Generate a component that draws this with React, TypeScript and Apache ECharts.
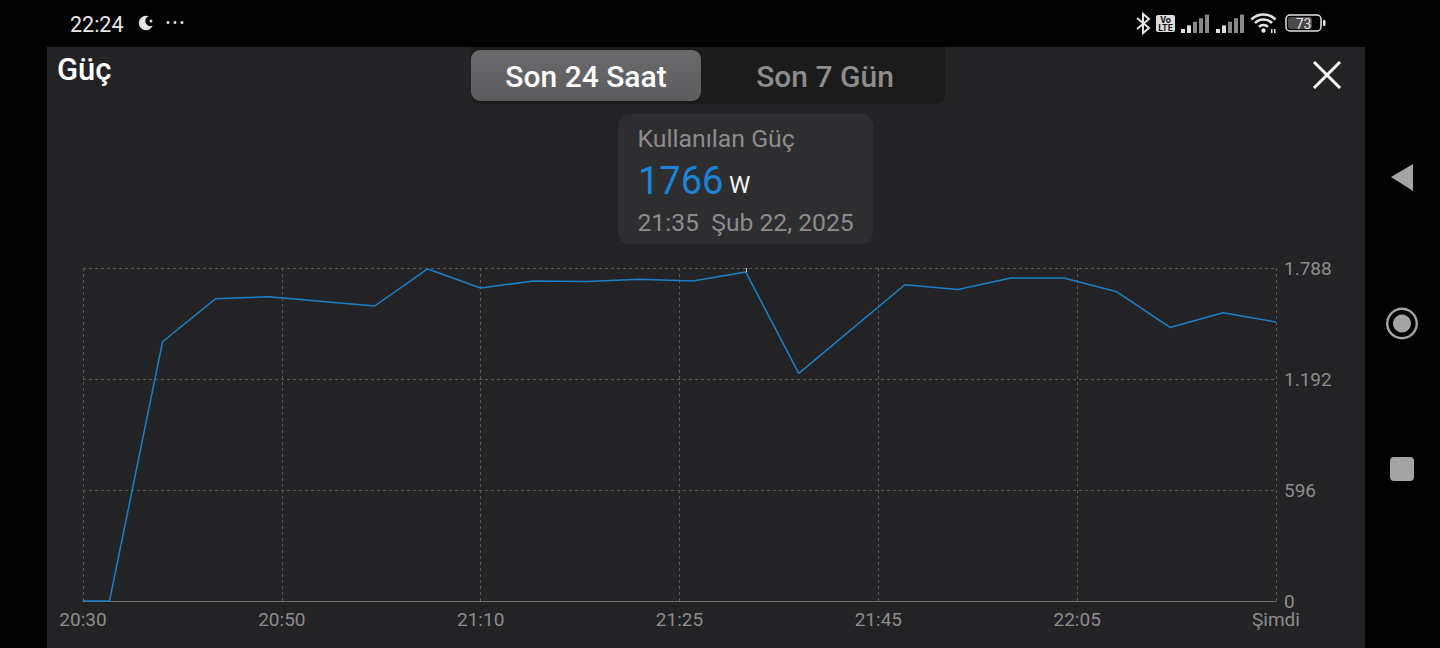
import React, { useEffect, useRef } from "react";
import * as echarts from "echarts";

const xTickLabels = ["20:30", "20:50", "21:10", "21:25", "21:45", "22:05", "Şimdi"];
const yTickLabels = ["0", "596", "1.192", "1.788"];
const yStep = 596;
const xStep = 18.75;
// position of each reading along the time axis, in minutes after the left edge
const sampleMinutes = [0, 2.5, 7.5, 12.5, 17.5, 27.5, 32.5, 37.5, 42.5, 47.5, 52.5, 57.5, 62.5, 67.5, 77.5, 82.5, 87.5, 92.5, 97.5, 102.5, 107.5, 112.5];
const powerWatts = [0, 0, 1392, 1623, 1634, 1584, 1783, 1681, 1718, 1716, 1727, 1718, 1766, 1222, 1698, 1673, 1734, 1734, 1660, 1469, 1548, 1498];
const selectedIndex = 12;

const FONT = "Roboto, sans-serif";
const GREY = "#8c8c8c";
const GRID = "#585858";

const txt = (text: string, x: number, y: number, size: number, fill: string, align = "left", fontWeight: any = 400) => ({
  type: "text", z: 5, x, y,
  style: { text, fill, font: `${fontWeight} ${size}px ${FONT}`, align, verticalAlign: "middle" },
});
const box = (x: number, y: number, width: number, height: number, r: any, fill: any, z = 1) => ({
  type: "rect", z, shape: { x, y, width, height, r }, style: { fill },
});
const bars = (x0: number, lit: string, dim: string) =>
  [0, 1, 2, 3, 4].map((i) => box(x0 + i * 6, 29 - i * 3.6, 4, 4 + i * 3.6, 0, i < 2 ? lit : dim, 5));

const statusIcons = () => {
  const c = "#e4e4e4";
  const wifi = [6.5, 12, 17].map((r) => ({
    type: "arc", z: 5,
    shape: { cx: 1263.5, cy: 31.5, r, startAngle: (-135 * Math.PI) / 180, endAngle: (-45 * Math.PI) / 180, clockwise: true },
    style: { stroke: c, lineWidth: 2.6, fill: "none" },
  }));
  return [
    // moon and dots
    { type: "circle", z: 5, shape: { cx: 146, cy: 23, r: 7.2 }, style: { fill: c } },
    { type: "circle", z: 6, shape: { cx: 150.5, cy: 21, r: 5.2 }, style: { fill: "#000" } },
    { type: "circle", z: 7, shape: { cx: 151, cy: 21, r: 1.4 }, style: { fill: c } },
    ...[168, 175, 182].map((cx) => ({ type: "circle", z: 5, shape: { cx, cy: 22.5, r: 1.5 }, style: { fill: c } })),
    // bluetooth
    { type: "polyline", z: 5, shape: { points: [[1137, 18], [1149, 28], [1143, 33], [1143, 14], [1149, 19], [1137, 29]] }, style: { stroke: c, lineWidth: 2, fill: "none" } },
    // VoLTE
    box(1156, 15, 19, 17, 2, "#dcdcdc", 5),
    txt("Vo", 1165.5, 20, 9, "#111", "center", 700),
    txt("LTE", 1165.5, 27.5, 9, "#111", "center", 700),
    ...bars(1181, "#e0e0e0", "#8a8a8a"),
    ...bars(1216, "#e0e0e0", "#8a8a8a"),
    ...wifi,
    { type: "circle", z: 5, shape: { cx: 1263.5, cy: 30.5, r: 2.2 }, style: { fill: c } },
    box(1271, 29, 1.5, 4, 0, c, 5),
    box(1274, 29, 1.5, 4, 0, c, 5),
    // battery
    { type: "rect", z: 5, shape: { x: 1286, y: 15, width: 35, height: 16, r: 4 }, style: { fill: "#000", stroke: c, lineWidth: 1.5 } },
    box(1288, 17, 24, 12, 2, "#4a4a4a", 5),
    txt("73", 1303.5, 24, 14, "#e4e4e4", "center"),
    box(1323, 20, 2.5, 6, 1, c, 5),
  ];
};

const navIcons = () => [
  { type: "polygon", z: 5, shape: { points: [[1391, 177], [1413, 164], [1413, 191]] }, style: { fill: "#a4a4a4" } },
  { type: "ring", z: 5, shape: { cx: 1402, cy: 323.5, r: 16, r0: 13.6 }, style: { fill: "#a4a4a4" } },
  { type: "circle", z: 5, shape: { cx: 1402, cy: 323.5, r: 9 }, style: { fill: "#a4a4a4" } },
  box(1390, 457, 24, 24, 4, "#a4a4a4", 5),
];

const App = () => {
  const ref = useRef<HTMLDivElement>(null);
  useEffect(() => {
    const chart = echarts.init(ref.current!, undefined, { renderer: "svg" });
    const line = { color: GRID, type: [3, 3] as any, width: 1 };
    chart.setOption({
      animation: false,
      backgroundColor: "#000",
      title: {
        text: "Güç", left: 52, top: 49,
        textStyle: { color: "#fff", fontFamily: FONT, fontSize: 31, fontWeight: 500 },
      },
      grid: { left: 83, right: 164, top: 268, bottom: 47, containLabel: false },
      xAxis: {
        type: "value", min: 0, max: xStep * (xTickLabels.length - 1), interval: xStep,
        axisLine: { show: true, lineStyle: { color: "#7a7a7a", type: [3, 1] as any, width: 1 } },
        axisTick: { show: false },
        splitLine: { show: true, lineStyle: line },
        axisLabel: {
          color: GREY, fontFamily: FONT, fontSize: 19, lineHeight: 18, margin: 9, hideOverlap: false,
          showMinLabel: true, showMaxLabel: true,
          formatter: (v: number) => xTickLabels[Math.round(v / xStep)],
        },
      },
      yAxis: {
        type: "value", position: "right", min: 0, max: yStep * (yTickLabels.length - 1), interval: yStep,
        axisLine: { show: false }, axisTick: { show: false },
        splitLine: { show: true, lineStyle: line },
        axisLabel: {
          color: GREY, fontFamily: FONT, fontSize: 19, lineHeight: 16, margin: 8, padding: [0, 0, 4, 0],
          formatter: (v: number) => yTickLabels[Math.round(v / yStep)],
        },
      },
      series: [{
        type: "line", showSymbol: false, symbol: "none", clip: false, z: 3,
        lineStyle: { color: "#1c80c8", width: 1.5 },
        data: sampleMinutes.map((m, i) => [m, powerWatts[i]]),
        markLine: {
          silent: true, symbol: "none", animation: false, label: { show: false },
          lineStyle: { color: "#c8c8c8", type: "solid", width: 1 },
          data: [[
            { coord: [sampleMinutes[selectedIndex], powerWatts[selectedIndex]] },
            { coord: [sampleMinutes[selectedIndex], yStep * (yTickLabels.length - 1)] },
          ]],
        },
      }],
      graphic: [
        { type: "group", silent: true, children: [
          box(47, 47, 1318, 601, 0, "#232325", -10),
          box(471, 47, 474, 57, [0, 0, 10, 10], "#1b1b1c", -9),
          box(471, 50, 230, 51, 9, new echarts.graphic.LinearGradient(0, 0, 0, 1, [
            { offset: 0, color: "#6a6a6c" }, { offset: 1, color: "#5c5c5e" },
          ]), -8),
          txt("Son 24 Saat", 586, 76.5, 30, "#fff", "center", 500),
          txt("Son 7 Gün", 825, 76.5, 30, GREY, "center", 500),
          box(618, 114, 255, 130, 12, "#2e2e30", -8),
          txt("Kullanılan Güç", 637.5, 138, 24.8, GREY),
          txt("1766", 638, 181, 38, "#1a85d8", "left", 400),
          txt("W", 729, 185, 24, "#f2f2f2", "left", 400),
          txt("21:35  Şub 22, 2025", 637.5, 222, 24.7, GREY),
          { type: "line", z: 5, shape: { x1: 1314, y1: 62, x2: 1340, y2: 88 }, style: { stroke: "#fff", lineWidth: 3 } },
          { type: "line", z: 5, shape: { x1: 1340, y1: 62, x2: 1314, y2: 88 }, style: { stroke: "#fff", lineWidth: 3 } },
          txt("22:24", 70, 24.5, 21.5, "#e8e8e8"),
          ...statusIcons(),
          ...navIcons(),
        ] },
      ],
    });
    return () => chart.dispose();
  }, []);
  return <div ref={ref} style={{ position: "fixed", left: 0, top: 0, width: 1440, height: 648 }} />;
};

export default App;
